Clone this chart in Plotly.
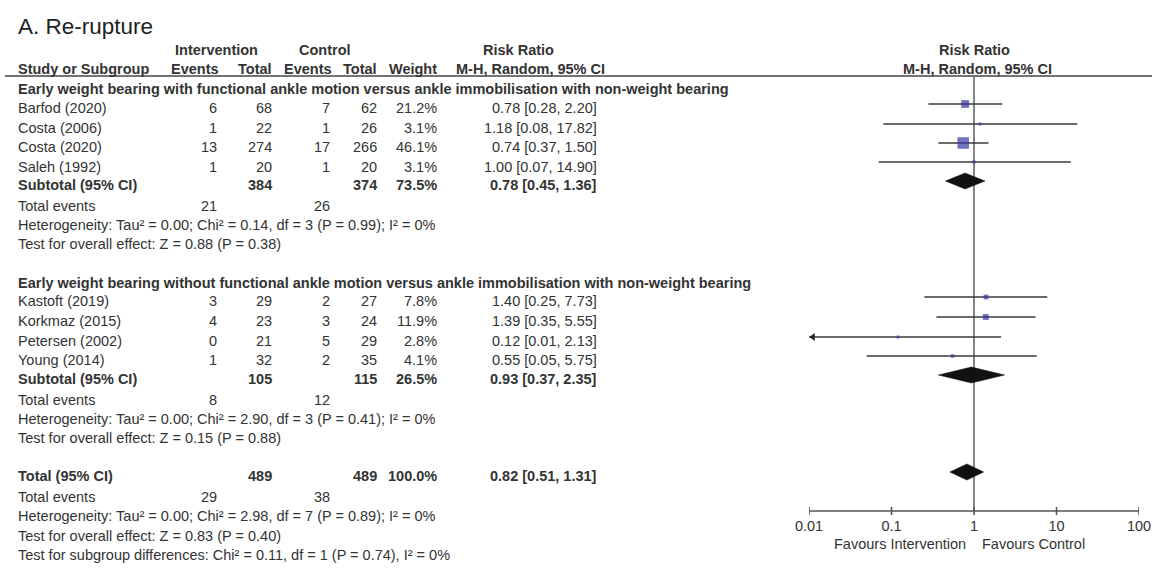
import math
import plotly.graph_objects as go

W, H = 1162, 578

# ---------------- data ----------------
g1_studies = ["Barfod (2020)", "Costa (2006)", "Costa (2020)", "Saleh (1992)"]
g1_int_events = [6, 1, 13, 1]
g1_int_total = [68, 22, 274, 20]
g1_ctl_events = [7, 1, 17, 1]
g1_ctl_total = [62, 26, 266, 20]
g1_weight = [21.2, 3.1, 46.1, 3.1]
g1_rr = [0.78, 1.18, 0.74, 1.00]
g1_lo = [0.28, 0.08, 0.37, 0.07]
g1_hi = [2.20, 17.82, 1.50, 14.90]

g2_studies = ["Kastoft (2019)", "Korkmaz (2015)", "Petersen (2002)", "Young (2014)"]
g2_int_events = [3, 4, 0, 1]
g2_int_total = [29, 23, 21, 32]
g2_ctl_events = [2, 3, 5, 2]
g2_ctl_total = [27, 24, 29, 35]
g2_weight = [7.8, 11.9, 2.8, 4.1]
g2_rr = [1.40, 1.39, 0.12, 0.55]
g2_lo = [0.25, 0.35, 0.01, 0.05]
g2_hi = [7.73, 5.55, 2.13, 5.75]

# subtotals / total: [int_total, ctl_total, weight, rr, lo, hi, int_events, ctl_events]
sub1 = [384, 374, 73.5, 0.78, 0.45, 1.36, 21, 26]
sub2 = [105, 115, 26.5, 0.93, 0.37, 2.35, 8, 12]
tot = [489, 489, 100.0, 0.82, 0.51, 1.31, 29, 38]

g1_title = "Early weight bearing with functional ankle motion versus ankle immobilisation with non-weight bearing"
g2_title = "Early weight bearing without functional ankle motion versus ankle immobilisation with non-weight bearing"
g1_het = "Heterogeneity: Tau² = 0.00; Chi² = 0.14, df = 3 (P = 0.99); I² = 0%"
g1_z = "Test for overall effect: Z = 0.88 (P = 0.38)"
g2_het = "Heterogeneity: Tau² = 0.00; Chi² = 2.90, df = 3 (P = 0.41); I² = 0%"
g2_z = "Test for overall effect: Z = 0.15 (P = 0.88)"
tot_het = "Heterogeneity: Tau² = 0.00; Chi² = 2.98, df = 7 (P = 0.89); I² = 0%"
tot_z = "Test for overall effect: Z = 0.83 (P = 0.40)"
tot_sub = "Test for subgroup differences: Chi² = 0.11, df = 1 (P = 0.74), I² = 0%"

axis_ticks = [0.01, 0.1, 1, 10, 100]
axis_tick_labels = ["0.01", "0.1", "1", "10", "100"]

# ---------------- layout constants (pixel rows) ----------------
FS = 14.5
TXT = "#333333"
FONT = "Liberation Sans, Arial, sans-serif"
Y_HEAD1, Y_HEAD2, Y_RULE = 50, 69, 76
g1_head_y = 89
g1_text_y = [108, 128, 147, 167]
g1_line_y = [104, 124, 143, 162]
sub1_text_y, sub1_line_y = 185, 181
g1_ev_y, g1_het_y, g1_z_y = 206, 225, 244
g2_head_y = 283
g2_text_y = [301, 321, 341, 360]
g2_line_y = [297, 317, 337, 356]
sub2_text_y, sub2_line_y = 379, 375
g2_ev_y, g2_het_y, g2_z_y = 400, 419, 438
tot_text_y, tot_line_y = 476, 472
tot_ev_y, tot_het_y, tot_z_y, tot_sub_y = 497, 516, 536, 555
AXIS_Y = 511

X_LEFT = 17
X_IE, X_IT, X_CE, X_CT, X_W, X_RR = 218, 273, 331, 378, 438, 598
PX_MIN, PX_MAX = 809, 1139

ann = []


def txt(s, x, y, anchor="left", bold=False, size=FS, color=TXT):
    ann.append(dict(text=f"<b>{s}</b>" if bold else s, x=x / W, y=y,
                    xref="paper", yref="y", xanchor=anchor, yanchor="middle",
                    showarrow=False, borderpad=0,
                    font=dict(family=FONT, size=size, color=color)))


def rrtxt(r, lo, hi):
    return f"{r:.2f} [{lo:.2f}, {hi:.2f}]"


# title & headers
txt("A. Re-rupture", X_LEFT, 26, size=22.5, color="#222222")
txt("Intervention", 216, Y_HEAD1, "center", True)
txt("Control", 325, Y_HEAD1, "center", True)
txt("Risk Ratio", 518, Y_HEAD1, "center", True)
txt("Risk Ratio", 975, Y_HEAD1, "center", True)
txt("Study or Subgroup", X_LEFT, Y_HEAD2, "left", True)
txt("Events", 220, Y_HEAD2, "right", True)
txt("Total", X_IT, Y_HEAD2, "right", True)
txt("Events", 333, Y_HEAD2, "right", True)
txt("Total", X_CT, Y_HEAD2, "right", True)
txt("Weight", X_W, Y_HEAD2, "right", True)
txt("M-H, Random, 95% CI", 530, Y_HEAD2, "center", True)
txt("M-H, Random, 95% CI", 977, Y_HEAD2, "center", True)


def study_rows(names, ie, it, ce, ct, w, rr, lo, hi, ys):
    for i in range(len(names)):
        y = ys[i]
        txt(names[i], X_LEFT, y)
        txt(str(ie[i]), X_IE, y, "right")
        txt(str(it[i]), X_IT, y, "right")
        txt(str(ce[i]), X_CE, y, "right")
        txt(str(ct[i]), X_CT, y, "right")
        txt(f"{w[i]:.1f}%", X_W, y, "right")
        txt(rrtxt(rr[i], lo[i], hi[i]), X_RR, y, "right")


def summary_row(label, s, y, ev_y):
    txt(label, X_LEFT, y, "left", True)
    txt(str(s[0]), X_IT, y, "right", True)
    txt(str(s[1]), X_CT, y, "right", True)
    txt(f"{s[2]:.1f}%", X_W, y, "right", True)
    txt(rrtxt(s[3], s[4], s[5]), X_RR, y, "right", True)
    txt("Total events", X_LEFT, ev_y)
    txt(str(s[6]), X_IE, ev_y, "right")
    txt(str(s[7]), X_CE, ev_y, "right")


txt(g1_title, X_LEFT, g1_head_y, "left", True)
study_rows(g1_studies, g1_int_events, g1_int_total, g1_ctl_events, g1_ctl_total,
           g1_weight, g1_rr, g1_lo, g1_hi, g1_text_y)
summary_row("Subtotal (95% CI)", sub1, sub1_text_y, g1_ev_y)
txt(g1_het, X_LEFT, g1_het_y)
txt(g1_z, X_LEFT, g1_z_y)

txt(g2_title, X_LEFT, g2_head_y, "left", True)
study_rows(g2_studies, g2_int_events, g2_int_total, g2_ctl_events, g2_ctl_total,
           g2_weight, g2_rr, g2_lo, g2_hi, g2_text_y)
summary_row("Subtotal (95% CI)", sub2, sub2_text_y, g2_ev_y)
txt(g2_het, X_LEFT, g2_het_y)
txt(g2_z, X_LEFT, g2_z_y)

summary_row("Total (95% CI)", tot, tot_text_y, tot_ev_y)
txt(tot_het, X_LEFT, tot_het_y)
txt(tot_z, X_LEFT, tot_z_y)
txt(tot_sub, X_LEFT, tot_sub_y)

# axis footnotes
txt("Favours Intervention", 967, 544, "right")
txt("Favours Control", 981, 544, "left")

# ---------------- forest plot traces ----------------
fig = go.Figure()
LINE_C = "#3a3a3a"
SQ_C = "#3636a0"

all_lo = g1_lo + g2_lo
all_hi = g1_hi + g2_hi
all_rr = g1_rr + g2_rr
all_w = g1_weight + g2_weight
all_y = g1_line_y + g2_line_y
xmin = axis_ticks[0]

# vertical line of no effect
fig.add_trace(go.Scatter(x=[1, 1], y=[Y_RULE, AXIS_Y], mode="lines",
                         line=dict(color="#666666", width=1.6), hoverinfo="skip"))

cx, cy = [], []
for lo, hi, y in zip(all_lo, all_hi, all_y):
    cx += [max(lo, xmin), hi, None]
    cy += [y, y, None]
fig.add_trace(go.Scatter(x=cx, y=cy, mode="lines",
                         line=dict(color=LINE_C, width=1.6), hoverinfo="skip"))

# arrow for CI truncated at axis minimum
px_per_dec = (PX_MAX - PX_MIN) / (math.log10(axis_ticks[-1]) - math.log10(axis_ticks[0]))
arr_x = [xmin * 10 ** (4.0 / px_per_dec) for lo in all_lo if lo <= xmin]
arr_y = [y for lo, y in zip(all_lo, all_y) if lo <= xmin]
fig.add_trace(go.Scatter(x=arr_x, y=arr_y, mode="markers", cliponaxis=False,
                         marker=dict(symbol="triangle-left", size=7, color="#222222"),
                         hoverinfo="skip"))

sizes = [max(3.0, 11.5 * math.sqrt(w / max(all_w))) for w in all_w]
fig.add_trace(go.Scatter(x=all_rr, y=all_y, mode="markers",
                         marker=dict(symbol="square", size=sizes, color=SQ_C,
                                     line=dict(width=0)),
                         hoverinfo="skip"))

for s, y in [(sub1, sub1_line_y), (sub2, sub2_line_y), (tot, tot_line_y)]:
    fig.add_trace(go.Scatter(x=[s[4], s[3], s[5], s[3], s[4]],
                             y=[y, y - 8, y, y + 8, y],
                             mode="lines", fill="toself", fillcolor="#111111",
                             line=dict(color="#111111", width=0.5), hoverinfo="skip"))

# x axis drawn on the log scale
fig.add_trace(go.Scatter(x=[axis_ticks[0], axis_ticks[-1]], y=[AXIS_Y, AXIS_Y],
                         mode="lines", line=dict(color="#555555", width=1.6),
                         hoverinfo="skip"))
tx, ty = [], []
for t in axis_ticks:
    tx += [t, t, None]
    ty += [AXIS_Y - 4, AXIS_Y + 4, None]
fig.add_trace(go.Scatter(x=tx, y=ty, mode="lines", cliponaxis=False,
                         line=dict(color="#555555", width=1.6), hoverinfo="skip"))
fig.add_trace(go.Scatter(x=axis_ticks, y=[527] * len(axis_ticks), mode="text",
                         text=axis_tick_labels, textposition="middle center",
                         cliponaxis=False,
                         textfont=dict(family=FONT, size=FS, color=TXT),
                         hoverinfo="skip"))

fig.update_layout(
    width=W, height=H,
    margin=dict(l=0, r=0, t=0, b=0),
    paper_bgcolor="white", plot_bgcolor="white",
    showlegend=False,
    xaxis=dict(type="log", range=[math.log10(axis_ticks[0]), math.log10(axis_ticks[-1])],
               domain=[PX_MIN / W, PX_MAX / W], visible=False, fixedrange=True),
    yaxis=dict(range=[H, 0], domain=[0, 1], visible=False, fixedrange=True),
    annotations=ann,
    shapes=[dict(type="line", xref="paper", yref="y", x0=5 / W, x1=1152 / W,
                 y0=Y_RULE, y1=Y_RULE, line=dict(color="#444444", width=1.5),
                 layer="below")],
)

fig.write_html("out.html", config={"displayModeBar": False})
